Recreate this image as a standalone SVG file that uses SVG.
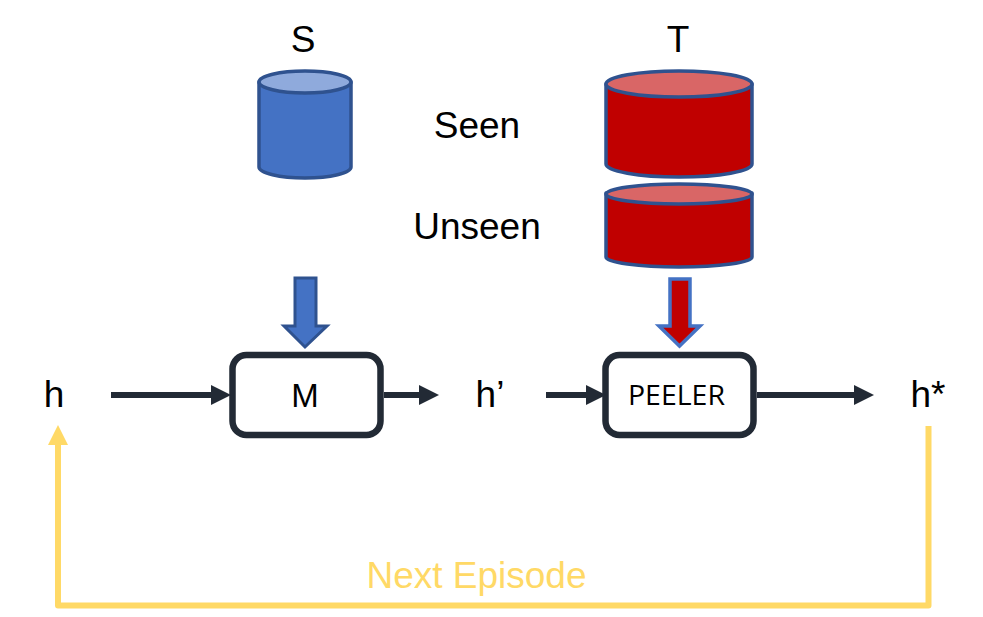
<svg xmlns="http://www.w3.org/2000/svg" width="983" height="617" viewBox="0 0 983 617">
<style>
text{font-family:"Liberation Sans",Arial,sans-serif;font-size:37px;fill:#000;text-anchor:middle}
.body{stroke:#2F528F;stroke-width:3.500;stroke-linejoin:round}
.blue{fill:#4472C4}.red{fill:#C00000}
.lidb{fill:#8FAADC}.lidr{fill:#D96666}
.box{fill:#fff;stroke:#222A35;stroke-width:6.5}
.flow{fill:none;stroke:#222A35;stroke-width:6}
.loop{fill:none;stroke:#FFD966;stroke-width:6;stroke-linejoin:round}
</style>
<defs>
<marker id="ah" markerUnits="userSpaceOnUse" markerWidth="20" markerHeight="20" refX="0" refY="10" orient="auto"><path d="M0 0L20 10L0 20Z" fill="#222A35"/></marker>
<marker id="ay" markerUnits="userSpaceOnUse" markerWidth="20" markerHeight="20" refX="0" refY="10" orient="auto"><path d="M0 0L20 10L0 20Z" fill="#FFD966"/></marker>
</defs>
<g id="label-s"><text x="303" y="52">S</text></g>
<g id="label-t"><text x="678" y="52">T</text></g>
<g id="label-seen"><text x="477" y="138">Seen</text></g>
<g id="label-unseen"><text x="477" y="239">Unseen</text></g>
<g id="cyl-s">
<path class="body blue" d="M259 82V167A46 11 0 0 0 351 167V82Z"/>
<ellipse class="body lidb" cx="305" cy="82" rx="46" ry="11"/>
</g>
<g id="cyl-seen">
<path class="body red" d="M606 84V164A73 13 0 0 0 752 164V84Z"/>
<ellipse class="body lidr" cx="679" cy="84" rx="73" ry="13"/>
</g>
<g id="cyl-unseen">
<path class="body red" d="M606 193V257A73 10 0 0 0 752 257V193Z"/>
<ellipse class="body lidr" cx="679" cy="194" rx="73" ry="10"/>
</g>
<g id="arrow-s"><path d="M295 278H316V326H327L305 347L284 326H295Z" fill="#4472C4" stroke="#2F528F" stroke-width="3"/></g>
<g id="arrow-t"><path d="M670 279H690V326H700L679.500 346L659 326H670Z" fill="#C00000" stroke="#4472C4" stroke-width="3.500"/></g>
<g id="node-m"><rect class="box" x="232.500" y="355" width="148" height="80" rx="14"/><text x="305" y="407" style="font-size:33px">M</text></g>
<g id="node-peeler"><rect class="box" x="605.500" y="355" width="148" height="80" rx="14"/><text x="676.500" y="405" style="font-family:'Open Sans','Noto Sans',sans-serif;font-size:28px" textLength="97" lengthAdjust="spacingAndGlyphs">PEELER</text></g>
<g id="label-h"><text x="54" y="407">h</text></g>
<g id="label-h1"><text x="490" y="407">h’</text></g>
<g id="label-h2"><text x="928" y="407">h*</text></g>
<g id="connectors">
<path class="flow" d="M111 395H211" marker-end="url(#ah)"/>
<path class="flow" d="M384 395H419" marker-end="url(#ah)"/>
<path class="flow" d="M546 395H586" marker-end="url(#ah)"/>
<path class="flow" d="M757 395H854" marker-end="url(#ah)"/>
<path class="loop" d="M928.500 426V605.500H58V445" marker-end="url(#ay)"/>
</g>
<g id="label-next"><text x="476.500" y="588" style="fill:#FFD966">Next Episode</text></g>
</svg>
